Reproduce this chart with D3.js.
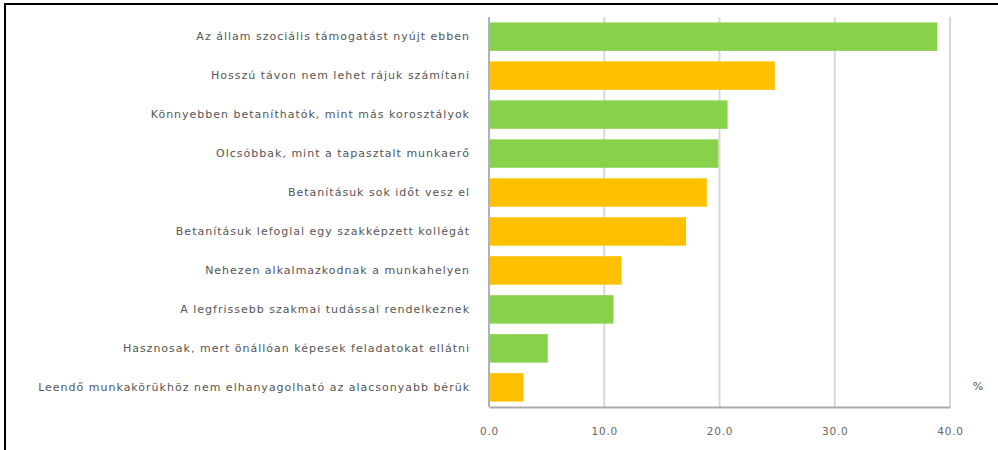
<!DOCTYPE html>
<html>
<head>
<meta charset="utf-8">
<script src="https://cdnjs.cloudflare.com/ajax/libs/d3/7.8.5/d3.min.js"></script>
<style>
  body { margin: 0; background: #fff; }
  svg text { font-family: "DejaVu Sans", Verdana, sans-serif; }
</style>
</head>
<body>
<svg id="chart" width="998" height="450"></svg>
<script>
// answers, top to bottom
var categories = [
    "Az állam szociális támogatást nyújt ebben",
    "Hosszú távon nem lehet rájuk számítani",
    "Könnyebben betaníthatók, mint más korosztályok",
    "Olcsóbbak, mint a tapasztalt munkaerő",
    "Betanításuk sok időt vesz el",
    "Betanításuk lefoglal egy szakképzett kollégát",
    "Nehezen alkalmazkodnak a munkahelyen",
    "A legfrissebb szakmai tudással rendelkeznek",
    "Hasznosak, mert önállóan képesek feladatokat ellátni",
    "Leendő munkakörükhöz nem elhanyagolható az alacsonyabb bérük"
];
var values = [38.9, 24.8, 20.7, 19.9, 18.9, 17.1, 11.5, 10.8, 5.1, 3.0];
// "p" = pro (green), "c" = contra (orange)
var kinds = ["p", "c", "p", "p", "c", "c", "c", "p", "p", "c"];
var xTicks = [0, 10, 20, 30, 40];

var colours = { p: "#88d14a", c: "#ffc000" };

var svg = d3.select("#chart");

// outer frame
svg.append("rect")
    .attr("x", 5).attr("y", 4)
    .attr("width", 1000).attr("height", 500)
    .attr("fill", "none")
    .attr("stroke", "#000")
    .attr("stroke-width", 2);

var x = d3.scaleLinear().domain([0, 40]).range([489, 950]);
var y = d3.scaleBand().domain(categories).range([17, 407]).paddingInner(0.27).paddingOuter(0.14);

// gridlines
svg.append("g")
    .selectAll("line")
    .data(xTicks)
  .enter()
    .append("line")
    .attr("x1", function(d) { return x(d); })
    .attr("x2", function(d) { return x(d); })
    .attr("y1", 17)
    .attr("y2", 407)
    .attr("stroke", function(d) { return d === 0 ? "#b0b0c0" : "#d8d8d8"; })
    .attr("stroke-width", 2);

// bars
svg.append("g")
    .selectAll("rect")
    .data(values)
  .enter()
    .append("rect")
    .attr("x", x(0) + 1)
    .attr("y", function(d, i) { return y(categories[i]); })
    .attr("width", function(d) { return x(d) - x(0) - 1; })
    .attr("height", y.bandwidth())
    .attr("fill", function(d, i) { return colours[kinds[i]]; });

// x axis
var xAxis = d3.axisBottom(x)
    .tickValues(xTicks)
    .tickSize(0)
    .tickPadding(21)
    .tickFormat(d3.format(".1f"));

var gx = svg.append("g")
    .attr("transform", "translate(0,407)")
    .call(xAxis);
gx.select(".domain").attr("stroke", "#aaa").attr("stroke-width", 2);
gx.selectAll("text")
    .attr("fill", "#666")
    .attr("font-size", 10.5)
    .attr("letter-spacing", 0.8);

// category labels
var yAxis = d3.axisLeft(y).tickSize(0).tickPadding(19);
var gy = svg.append("g")
    .attr("transform", "translate(" + x(0) + ",0)")
    .call(yAxis);
gy.select(".domain").remove();
gy.selectAll("text")
    .attr("fill", "#555")
    .attr("font-size", 11)
    .attr("letter-spacing", 1);

// unit
svg.append("text")
    .attr("x", 978)
    .attr("y", 390)
    .attr("text-anchor", "middle")
    .attr("font-size", 11)
    .attr("fill", "#555")
    .text("%");
</script>
</body>
</html>
